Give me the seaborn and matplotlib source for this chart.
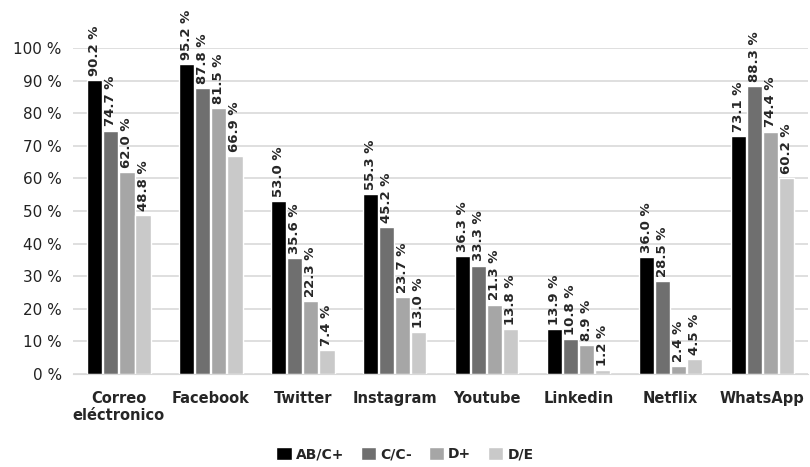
import matplotlib
matplotlib.use("Agg")
from matplotlib import pyplot as plt
import numpy as np
import pandas
import seaborn as sns

# Data
categories = ["Correo\neléctronico", "Facebook", "Twitter", "Instagram", "Youtube", "Linkedin", "Netflix", "WhatsApp"]
series = ["AB/C+", "C/C-", "D+", "D/E"]
ab_c = [90.2, 95.2, 53.0, 55.3, 36.3, 13.9, 36.0, 73.1]
c_c = [74.7, 87.8, 35.6, 45.2, 33.3, 10.8, 28.5, 88.3]
d_plus = [62.0, 81.5, 22.3, 23.7, 21.3, 8.9, 2.4, 74.4]
d_e = [48.8, 66.9, 7.4, 13.0, 13.8, 1.2, 4.5, 60.2]
colors = ["#000000", "#6f6f6f", "#a6a6a6", "#c9c9c9"]

rows = []
for name, vals in zip(series, [ab_c, c_c, d_plus, d_e]):
    for cat, v in zip(categories, vals):
        rows.append({"Categoria": cat, "Grupo": name, "Valor": v})
dataframe = pandas.DataFrame(rows)

# Plot
sns.set_style("white")
plt.rcParams['font.family'] = ['DejaVu Sans']
fig = plt.figure(figsize=(8.1, 4.67), dpi=100)
ax = fig.add_axes([0.09, 0.199, 0.908, 0.698])
ax.yaxis.grid(True, color="#d9d9d9", linewidth=1.2)
ax.set_axisbelow(True)
g = sns.barplot(data=dataframe, x="Categoria", y="Valor", hue="Grupo", palette=colors,
                width=0.7, gap=0.05, ax=ax, legend=True)

for cont in ax.containers:
    labels = [f"{v:.1f} %" for v in cont.datavalues]
    ax.bar_label(cont, labels=labels, rotation=90, padding=3, fontsize=9.5,
                 fontweight="bold", clip_on=False)

ax.set_ylim(0, 100)
ax.set_yticks(np.arange(0, 101, 10))
ax.set_yticklabels([f"{t} %" for t in range(0, 101, 10)], fontsize=11, color="#222222")
ax.set_xlabel("")
ax.set_ylabel("")
ax.tick_params(axis="x", labelsize=10.5, pad=12, length=0)
ax.tick_params(axis="y", length=0, pad=8)
for lab in ax.get_xticklabels():
    lab.set_fontweight("bold")
for s in ["top", "right", "left"]:
    ax.spines[s].set_visible(False)
ax.spines["bottom"].set_color("#d9d9d9")

handles, labels = ax.get_legend_handles_labels()
ax.get_legend().remove()
fig.legend(handles, labels, loc="center", bbox_to_anchor=(0.5, 0.028), ncol=4, frameon=False,
           handlelength=1.1, handleheight=1.1, handletextpad=0.3, columnspacing=1.2,
           prop={"weight": "bold", "size": 10})

plt.savefig("out.png", dpi=100)
